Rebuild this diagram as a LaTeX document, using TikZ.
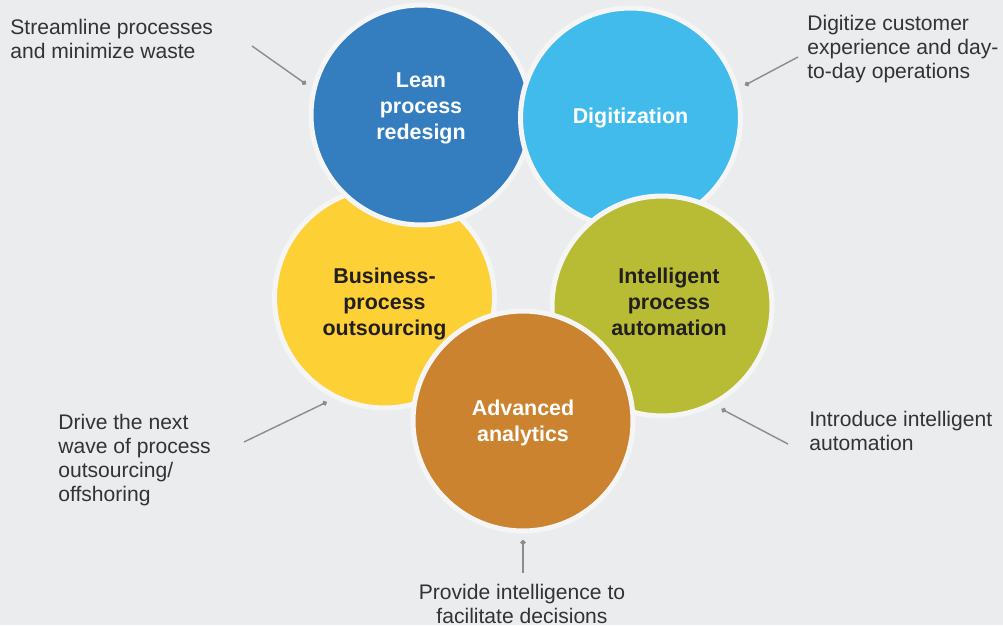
\documentclass[tikz,border=0pt]{standalone}
\usepackage{fontspec}
\setmainfont{Liberation Sans}
\usetikzlibrary{arrows.meta}
\definecolor{bggrey}{HTML}{EBECEE}
\definecolor{leanblue}{HTML}{347EC0}
\definecolor{digiblue}{HTML}{40BBEC}
\definecolor{ipagreen}{HTML}{B8BC35}
\definecolor{aaorange}{HTML}{CB8330}
\definecolor{bpoyellow}{HTML}{FDD136}
\definecolor{rimwhite}{HTML}{F5F5F5}
\definecolor{notegrey}{HTML}{333333}
\definecolor{linegrey}{HTML}{8C8C8C}
\definecolor{darkink}{HTML}{231F20}
\tikzset{
	bubble/.style={circle, draw=rimwhite, line width=0.1cm, minimum size=4.4cm, inner sep=0pt, outer sep=0.18cm},
	inscription/.style={align=center, inner sep=0pt, font=\fontsize{12.2}{14.8}\selectfont\bfseries},
	note/.style={inner sep=0pt, text=notegrey, font=\fontsize{12}{13.65}\selectfont},
	conn/.style={linegrey, line width=0.8pt, -{Circle[length=0.1cm]}}
}
\begin{document}
\begin{tikzpicture}[x=0.02cm, y=-0.02cm]
				\fill[bggrey] (0,0) rectangle (1003,625);
				\useasboundingbox (0,0) rectangle (1003,625);
				\node[bubble, fill=bpoyellow, label={[inscription, text=darkink, yshift=-0.12cm]center:Business-\\process\\outsourcing}] (bpo) at (384.5,298) {};
				\node[bubble, fill=leanblue, label={[inscription, text=white, yshift=0.14cm]center:Lean\\process\\redesign}] (lean) at (421,115) {};
				\node[bubble, fill=digiblue, label={[inscription, text=white]center:Digitization}] (digi) at (630.5,118) {};
				\node[bubble, fill=ipagreen, label={[inscription, text=darkink, xshift=0.14cm, yshift=0.08cm]center:Intelligent\\process\\automation}] (ipa) at (662,306) {};
				\node[bubble, fill=aaorange, label={[inscription, text=white, yshift=-0.04cm]center:Advanced\\analytics}] (aa) at (523,421) {};
				\node[note, anchor=north west, align=left] (leantxt) at (10,18.5) {Streamline processes\\and minimize waste};
				\node[note, anchor=north west, align=left] (digitxt) at (807,15) {Digitize customer\\experience and day-\\to-day operations};
				\node[note, anchor=north west, align=left] (ipatxt) at (809,411) {Introduce intelligent\\automation};
				\node[note, anchor=north west, align=left] (bpotxt) at (58,414) {Drive the next\\wave of process\\outsourcing/\\offshoring};
				\node[note, anchor=north, align=center] (aatxt) at (522,584) {Provide intelligence to\\facilitate decisions};
				\coordinate (lean-end) at (252,46);
				\coordinate (digi-end) at (798,57);
				\coordinate (ipa-end) at (788,444);
				\coordinate (bpo-end) at (244,442);
				\coordinate (aa-end) at (523,573);
				\foreach \c/\a in {lean/165,digi/16,ipa/-60,bpo/-119.5,aa/-90}{
					\draw[conn] (\c-end) -- (\c.\a);
				}
			\end{tikzpicture}
\end{document}
